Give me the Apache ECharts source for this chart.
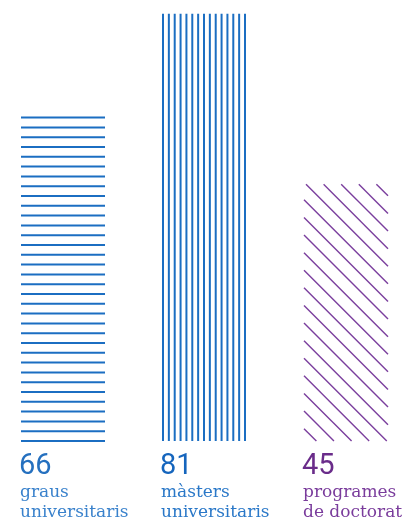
<!DOCTYPE html>
<html><head><meta charset="utf-8">
<script src="https://cdn.jsdelivr.net/npm/echarts@6/dist/echarts.min.js"></script>
<style>html,body{margin:0;padding:0;background:#fff}#c{width:403px;height:525px}</style>
</head><body><div id="c"></div>
<script>
// ---- data ----
const categories = ['graus universitaris', 'màsters universitaris', 'programes de doctorat'];
const counts = [66, 81, 45];
const labelLines = [['graus', 'universitaris'], ['màsters', 'universitaris'], ['programes', 'de doctorat']];
// bar heights as drawn in the picture (same scale as the first bar = 66)
const barHeights = [66, 87.2, 52.4];
const patterns = ['horizontal', 'vertical', 'diagonal'];

// ---- styling ----
const lineColors = ['#1b6ec2', '#1b6ec2', '#7a3e9d'];
const numColors = ['#2570bf', '#1565bd', '#6a2c8a'];
const txtColors = ['#3a82cc', '#2a78c8', '#7a3c9c'];
const BAR_W = 84;

const chart = echarts.init(document.getElementById('c'), null, {renderer: 'canvas'});

function renderItem(params, api) {
  const i = api.value(0);
  const v = api.value(1);
  const base = api.coord([i, 0]);
  const topP = api.coord([i, v]);
  const x0 = Math.round(base[0] - BAR_W / 2), x1 = x0 + BAR_W;
  const y0 = topP[1], y1 = base[1];
  const kind = patterns[i];
  const col = lineColors[i];
  const children = [];
  if (kind === 'horizontal') {
    const n = Math.round((y1 - y0) / 9.8);
    const step = (y1 - y0) / n;
    for (let k = 0; k <= n; k++) {
      const y = y0 + k * step;
      children.push({type: 'line', shape: {x1: x0, y1: y, x2: x1, y2: y}, style: {stroke: col, lineWidth: 2}});
    }
  } else if (kind === 'vertical') {
    const n = 14;
    const step = (BAR_W - 2) / n;
    for (let k = 0; k <= n; k++) {
      const x = x0 + 1 + k * step;
      children.push({type: 'line', shape: {x1: x, y1: y0, x2: x, y2: y1}, style: {stroke: col, lineWidth: 2}});
    }
  } else {
    const step = 17.6;
    const cStart = y0 - x0 - 2;
    for (let k = -20; k <= 40; k++) {
      const c = cStart + k * step;
      const xs = Math.max(x0, y0 - c);
      const xe = Math.min(x1, y1 - c);
      if (xe - xs > 0.5) {
        children.push({type: 'line', shape: {x1: xs, y1: xs + c, x2: xe, y2: xe + c}, style: {stroke: col, lineWidth: 1.4}});
      }
    }
  }
  children.push({type: 'text', x: x0 - 2, y: y1 + 11, style: {
    text: String(counts[i]), fill: numColors[i], font: '400 29px Roboto, sans-serif',
    textAlign: 'left', textVerticalAlign: 'top'}});
  children.push({type: 'text', x: x0 - 1, y: y1 + 42, style: {
    text: labelLines[i].join('\n'), fill: txtColors[i], font: '400 17px "DejaVu Serif", serif',
    lineHeight: 20, textAlign: 'left', textVerticalAlign: 'top'}});
  return {type: 'group', children: children};
}

chart.setOption({
  animation: false,
  grid: {left: 62.5, right: 57.5, top: 0, bottom: 84, containLabel: false},
  xAxis: {type: 'category', data: categories, show: false, boundaryGap: false},
  yAxis: {type: 'value', min: 0, max: 90, show: false},
  series: [{
    type: 'custom',
    renderItem: renderItem,
    clip: false,
    data: barHeights.map((h, i) => [i, h])
  }]
});
</script></body></html>
